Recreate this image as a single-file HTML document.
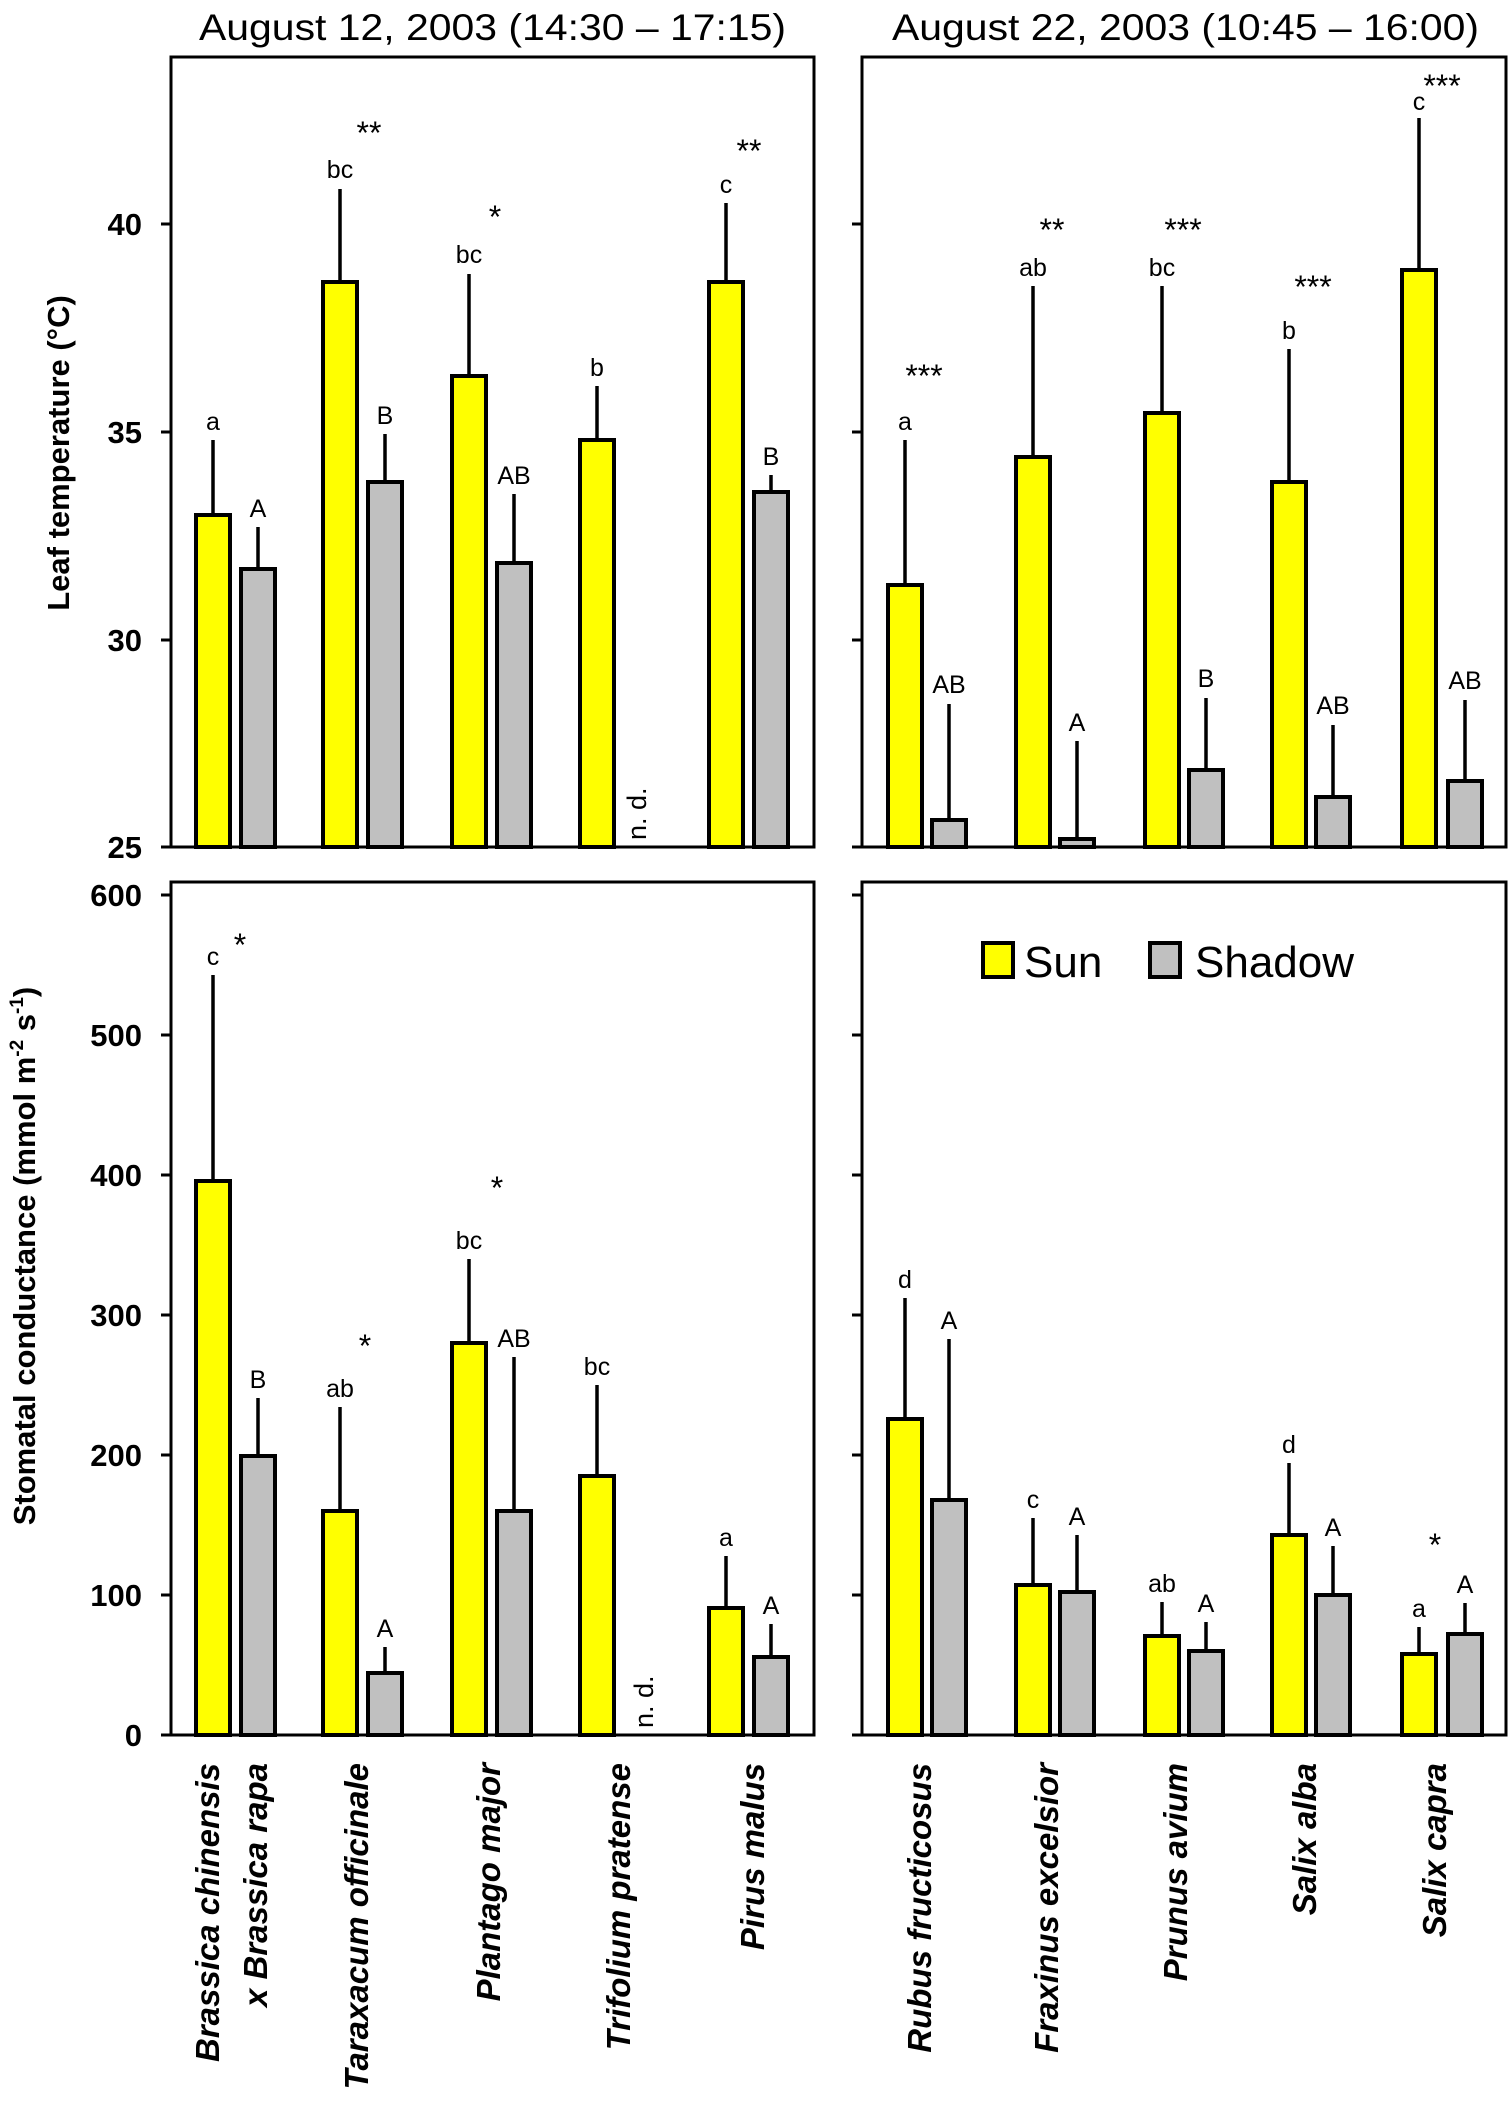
<!DOCTYPE html>
<html><head><meta charset="utf-8"><style>
html,body{margin:0;padding:0;background:#fff}
svg{display:block}
text{font-family:"Liberation Sans",Arial,sans-serif}
.t{font-size:37px}
.tk{font-size:31px;font-weight:bold;text-anchor:end}
.l{font-size:25px;text-anchor:middle}
.s{font-size:32px;text-anchor:middle}
.c{font-size:33px;font-weight:bold;font-style:italic;text-anchor:end}
.y{fill:#ffff00;stroke:#000;stroke-width:4}
.g{fill:#c0c0c0;stroke:#000;stroke-width:4}
.e{stroke:#000;stroke-width:3.5}
</style></head><body>
<svg width="1512" height="2124" viewBox="0 0 1512 2124" xmlns="http://www.w3.org/2000/svg">
<text class="t" x="199" y="40" textLength="587" lengthAdjust="spacingAndGlyphs">August 12, 2003 (14:30 – 17:15)</text>
<text class="t" x="892" y="40" textLength="587" lengthAdjust="spacingAndGlyphs">August 22, 2003 (10:45 – 16:00)</text>

<g fill="none" stroke="#000" stroke-width="3">
<rect x="171" y="57" width="643" height="790"/>
<rect x="862" y="57" width="644" height="790"/>
<rect x="171" y="882" width="643" height="853"/>
<rect x="862" y="882" width="644" height="853"/>
<line x1="161" y1="847" x2="814" y2="847"/>
<line x1="852" y1="847" x2="1506" y2="847"/>
<line x1="161" y1="1735" x2="814" y2="1735"/>
<line x1="852" y1="1735" x2="1506" y2="1735"/>
</g>
<g stroke="#000" stroke-width="3">
<line x1="161" y1="224" x2="171" y2="224"/><line x1="161" y1="432" x2="171" y2="432"/><line x1="161" y1="640" x2="171" y2="640"/>
<line x1="852" y1="224" x2="862" y2="224"/><line x1="852" y1="432" x2="862" y2="432"/><line x1="852" y1="640" x2="862" y2="640"/>
<line x1="161" y1="895" x2="171" y2="895"/><line x1="161" y1="1035" x2="171" y2="1035"/><line x1="161" y1="1175" x2="171" y2="1175"/><line x1="161" y1="1315" x2="171" y2="1315"/><line x1="161" y1="1455" x2="171" y2="1455"/><line x1="161" y1="1595" x2="171" y2="1595"/>
<line x1="852" y1="895" x2="862" y2="895"/><line x1="852" y1="1035" x2="862" y2="1035"/><line x1="852" y1="1175" x2="862" y2="1175"/><line x1="852" y1="1315" x2="862" y2="1315"/><line x1="852" y1="1455" x2="862" y2="1455"/><line x1="852" y1="1595" x2="862" y2="1595"/>
</g>
<text class="tk" x="142" y="235">40</text><text class="tk" x="142" y="443">35</text><text class="tk" x="142" y="651">30</text><text class="tk" x="142" y="858">25</text>
<text class="tk" x="142" y="906">600</text><text class="tk" x="142" y="1046">500</text><text class="tk" x="142" y="1186">400</text><text class="tk" x="142" y="1326">300</text><text class="tk" x="142" y="1466">200</text><text class="tk" x="142" y="1606">100</text><text class="tk" x="142" y="1746">0</text>

<text transform="translate(69,453) rotate(-90)" font-size="31" font-weight="bold" text-anchor="middle">Leaf temperature  (°C)</text>
<text transform="translate(35,1256) rotate(-90)" font-size="31" font-weight="bold" text-anchor="middle">Stomatal conductance  (mmol m<tspan font-size="19" dy="-12">-2</tspan><tspan dy="12"> s</tspan><tspan font-size="19" dy="-12">-1</tspan><tspan dy="12">)</tspan></text>

<g class="e">
<line x1="213" y1="515" x2="213" y2="440"/><line x1="340" y1="282" x2="340" y2="189"/><line x1="469" y1="376" x2="469" y2="274"/><line x1="597" y1="440" x2="597" y2="386"/><line x1="726" y1="282" x2="726" y2="203"/>
<line x1="258" y1="569" x2="258" y2="527"/><line x1="385" y1="482" x2="385" y2="434"/><line x1="514" y1="563" x2="514" y2="494"/><line x1="771" y1="492" x2="771" y2="475"/>
<line x1="905" y1="585" x2="905" y2="440"/><line x1="1033" y1="457" x2="1033" y2="286"/><line x1="1162" y1="413" x2="1162" y2="286"/><line x1="1289" y1="482" x2="1289" y2="349"/><line x1="1419" y1="270" x2="1419" y2="118"/>
<line x1="949" y1="820" x2="949" y2="704"/><line x1="1077" y1="839" x2="1077" y2="741"/><line x1="1206" y1="770" x2="1206" y2="698"/><line x1="1333" y1="797" x2="1333" y2="725"/><line x1="1465" y1="781" x2="1465" y2="700"/>
<line x1="213" y1="1181" x2="213" y2="975"/><line x1="340" y1="1511" x2="340" y2="1407"/><line x1="469" y1="1343" x2="469" y2="1259"/><line x1="597" y1="1476" x2="597" y2="1385"/><line x1="726" y1="1608" x2="726" y2="1556"/>
<line x1="258" y1="1456" x2="258" y2="1398"/><line x1="385" y1="1673" x2="385" y2="1647"/><line x1="514" y1="1511" x2="514" y2="1357"/><line x1="771" y1="1657" x2="771" y2="1624"/>
<line x1="905" y1="1419" x2="905" y2="1298"/><line x1="1033" y1="1585" x2="1033" y2="1518"/><line x1="1162" y1="1636" x2="1162" y2="1602"/><line x1="1289" y1="1535" x2="1289" y2="1463"/><line x1="1419" y1="1654" x2="1419" y2="1627"/>
<line x1="949" y1="1500" x2="949" y2="1339"/><line x1="1077" y1="1592" x2="1077" y2="1535"/><line x1="1206" y1="1651" x2="1206" y2="1622"/><line x1="1333" y1="1595" x2="1333" y2="1546"/><line x1="1465" y1="1634" x2="1465" y2="1603"/>
</g>

<rect class="y" x="196" y="515" width="34" height="332"/>
<rect class="y" x="323" y="282" width="34" height="565"/>
<rect class="y" x="452" y="376" width="34" height="471"/>
<rect class="y" x="580" y="440" width="34" height="407"/>
<rect class="y" x="709" y="282" width="34" height="565"/>
<rect class="g" x="241" y="569" width="34" height="278"/>
<rect class="g" x="368" y="482" width="34" height="365"/>
<rect class="g" x="497" y="563" width="34" height="284"/>
<rect class="g" x="754" y="492" width="34" height="355"/>
<rect class="y" x="888" y="585" width="34" height="262"/>
<rect class="y" x="1016" y="457" width="34" height="390"/>
<rect class="y" x="1145" y="413" width="34" height="434"/>
<rect class="y" x="1272" y="482" width="34" height="365"/>
<rect class="y" x="1402" y="270" width="34" height="577"/>
<rect class="g" x="932" y="820" width="34" height="27"/>
<rect class="g" x="1060" y="839" width="34" height="8"/>
<rect class="g" x="1189" y="770" width="34" height="77"/>
<rect class="g" x="1316" y="797" width="34" height="50"/>
<rect class="g" x="1448" y="781" width="34" height="66"/>
<rect class="y" x="196" y="1181" width="34" height="554"/>
<rect class="y" x="323" y="1511" width="34" height="224"/>
<rect class="y" x="452" y="1343" width="34" height="392"/>
<rect class="y" x="580" y="1476" width="34" height="259"/>
<rect class="y" x="709" y="1608" width="34" height="127"/>
<rect class="g" x="241" y="1456" width="34" height="279"/>
<rect class="g" x="368" y="1673" width="34" height="62"/>
<rect class="g" x="497" y="1511" width="34" height="224"/>
<rect class="g" x="754" y="1657" width="34" height="78"/>
<rect class="y" x="888" y="1419" width="34" height="316"/>
<rect class="y" x="1016" y="1585" width="34" height="150"/>
<rect class="y" x="1145" y="1636" width="34" height="99"/>
<rect class="y" x="1272" y="1535" width="34" height="200"/>
<rect class="y" x="1402" y="1654" width="34" height="81"/>
<rect class="g" x="932" y="1500" width="34" height="235"/>
<rect class="g" x="1060" y="1592" width="34" height="143"/>
<rect class="g" x="1189" y="1651" width="34" height="84"/>
<rect class="g" x="1316" y="1595" width="34" height="140"/>
<rect class="g" x="1448" y="1634" width="34" height="101"/>

<text class="l" x="213" y="430">a</text><text class="l" x="340" y="178">bc</text><text class="l" x="469" y="263">bc</text><text class="l" x="597" y="376">b</text><text class="l" x="726" y="193">c</text>
<text class="l" x="258" y="517">A</text><text class="l" x="385" y="424">B</text><text class="l" x="514" y="484">AB</text><text class="l" x="771" y="465">B</text>
<text class="l" x="905" y="430">a</text><text class="l" x="1033" y="276">ab</text><text class="l" x="1162" y="276">bc</text><text class="l" x="1289" y="339">b</text><text class="l" x="1419" y="110">c</text>
<text class="l" x="949" y="693">AB</text><text class="l" x="1077" y="731">A</text><text class="l" x="1206" y="687">B</text><text class="l" x="1333" y="714">AB</text><text class="l" x="1465" y="689">AB</text>
<text class="s" x="369" y="144">**</text><text class="s" x="495" y="228">*</text><text class="s" x="749" y="162">**</text>
<text class="s" x="924" y="387">***</text><text class="s" x="1052" y="241">**</text><text class="s" x="1183" y="241">***</text><text class="s" x="1313" y="298">***</text><text class="s" x="1442" y="97">***</text>
<text class="l" x="213" y="965">c</text><text class="l" x="340" y="1397">ab</text><text class="l" x="469" y="1249">bc</text><text class="l" x="597" y="1375">bc</text><text class="l" x="726" y="1546">a</text>
<text class="l" x="258" y="1388">B</text><text class="l" x="385" y="1637">A</text><text class="l" x="514" y="1347">AB</text><text class="l" x="771" y="1614">A</text>
<text class="l" x="905" y="1288">d</text><text class="l" x="1033" y="1508">c</text><text class="l" x="1162" y="1592">ab</text><text class="l" x="1289" y="1453">d</text><text class="l" x="1419" y="1617">a</text>
<text class="l" x="949" y="1329">A</text><text class="l" x="1077" y="1525">A</text><text class="l" x="1206" y="1612">A</text><text class="l" x="1333" y="1536">A</text><text class="l" x="1465" y="1593">A</text>
<text class="s" x="240" y="956">*</text><text class="s" x="365" y="1357">*</text><text class="s" x="497" y="1199">*</text><text class="s" x="1435" y="1556">*</text>

<text transform="translate(646,840) rotate(-90)" font-size="27">n. d.</text>
<text transform="translate(653,1728) rotate(-90)" font-size="27">n. d.</text>

<rect x="983" y="943" width="30" height="34" fill="#ffff00" stroke="#000" stroke-width="4"/>
<text x="1024" y="977" font-size="44">Sun</text>
<rect x="1150" y="943" width="30" height="34" fill="#c0c0c0" stroke="#000" stroke-width="4"/>
<text x="1195" y="977" font-size="44">Shadow</text>

<text class="c" transform="translate(219,1763) rotate(-90)">Brassica chinensis</text>
<text class="c" transform="translate(267,1763) rotate(-90)">x Brassica rapa</text>
<text class="c" transform="translate(368,1763) rotate(-90)">Taraxacum officinale</text>
<text class="c" transform="translate(500,1763) rotate(-90)">Plantago major</text>
<text class="c" transform="translate(630,1763) rotate(-90)">Trifolium pratense</text>
<text class="c" transform="translate(764,1763) rotate(-90)">Pirus malus</text>
<text class="c" transform="translate(931,1763) rotate(-90)">Rubus fructicosus</text>
<text class="c" transform="translate(1058,1763) rotate(-90)">Fraxinus excelsior</text>
<text class="c" transform="translate(1187,1763) rotate(-90)">Prunus avium</text>
<text class="c" transform="translate(1316,1763) rotate(-90)">Salix alba</text>
<text class="c" transform="translate(1446,1763) rotate(-90)">Salix capra</text>
</svg>
</body></html>
